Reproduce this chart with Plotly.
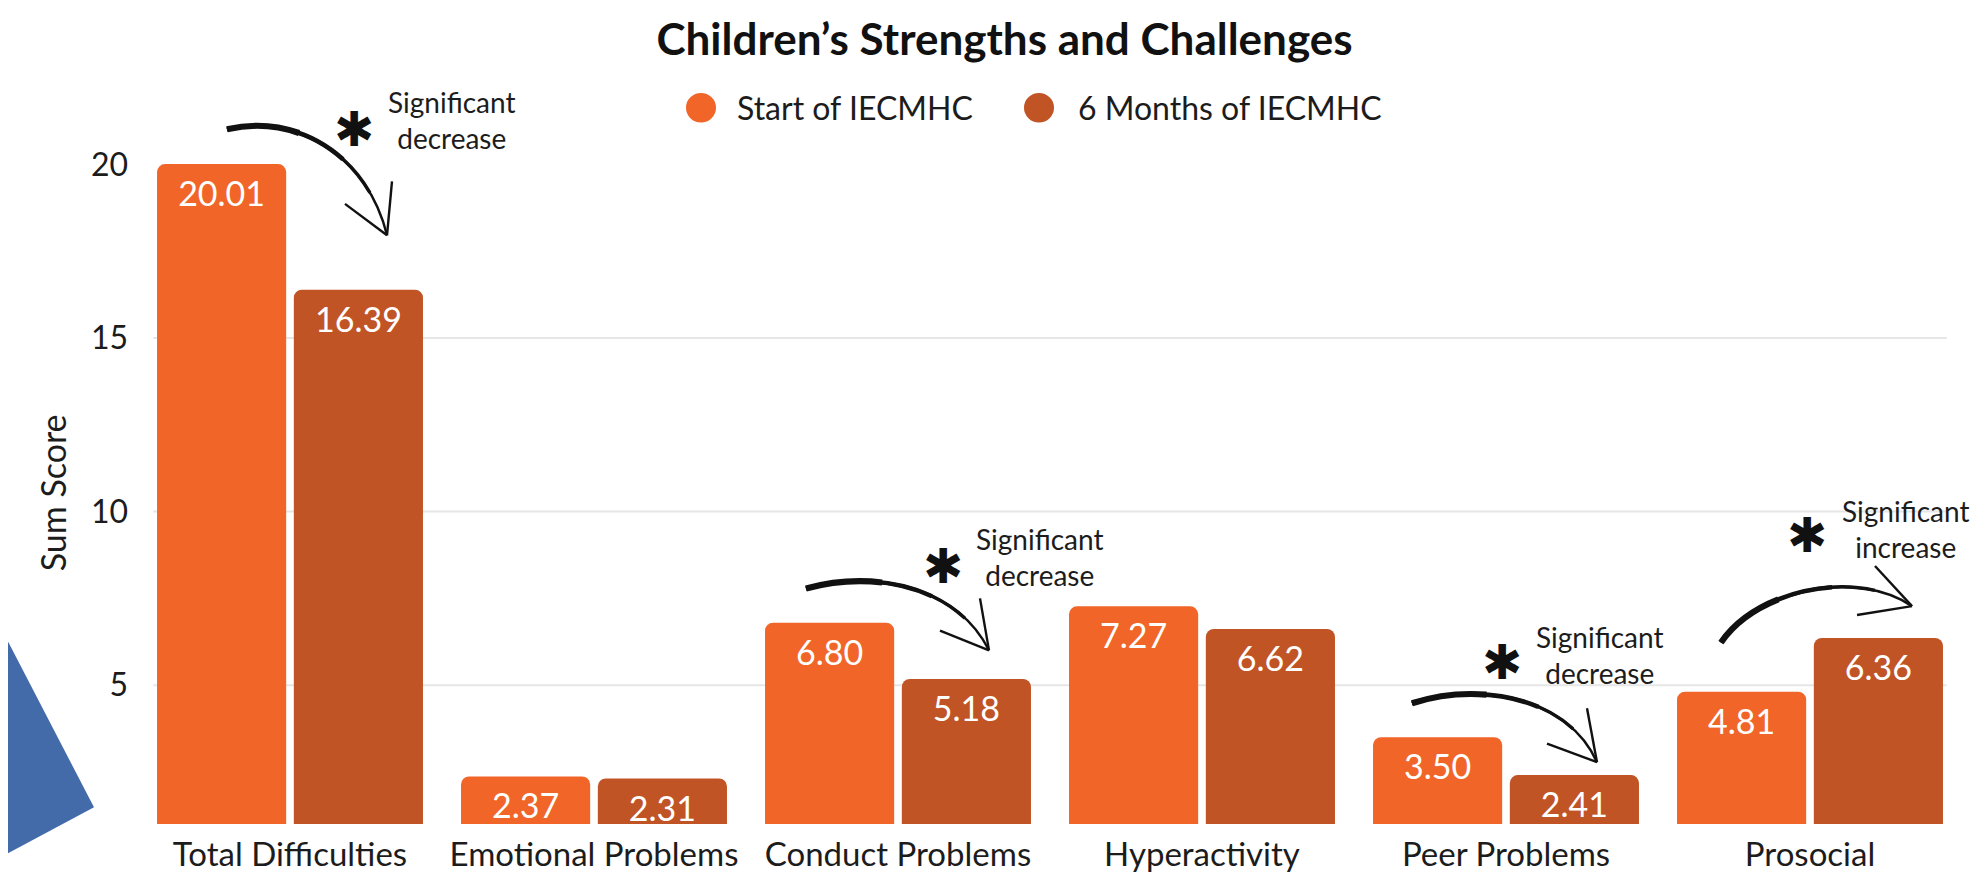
import plotly.graph_objects as go

# ---------------- data ----------------
categories = ["Total Difficulties", "Emotional Problems", "Conduct Problems",
              "Hyperactivity", "Peer Problems", "Prosocial"]
series_names = ["Start of IECMHC", "6 Months of IECMHC"]
start_values = [20.01, 2.37, 6.80, 7.27, 3.50, 4.81]
six_month_values = [16.39, 2.31, 5.18, 6.62, 2.41, 6.36]
y_tick_values = [5, 10, 15, 20]
grid_values = [5, 10, 15]
title_text = "Children’s Strengths and Challenges"
y_title = "Sum Score"
note_texts = ["Significant<br>decrease", "Significant<br>decrease",
              "Significant<br>decrease", "Significant<br>increase"]

# ---------------- style ----------------
W, H = 1979, 877
M = dict(l=130, r=25, t=87, b=47)
Y_RANGE = [1, 22]
colors = ["#F16628", "#C15425"]
FONT = "Lato"
TXT = "#1c1c1c"


def px_x(x):
    return (x - M["l"]) / (W - M["l"] - M["r"])


def px_y(y):
    return (H - M["b"] - y) / (H - M["t"] - M["b"])


fig = go.Figure()
for name, vals, col in zip(series_names, [start_values, six_month_values], colors):
    fig.add_trace(go.Bar(
        x=categories, y=vals, name=name,
        marker=dict(color=col, line=dict(width=0)),
        texttemplate="%{y:.2f}", textposition="inside", insidetextanchor="end",
        textfont=dict(color="white", size=34, family=FONT),
        showlegend=False, hoverinfo="skip",
    ))

shapes = []
# gridlines
for g in grid_values:
    shapes.append(dict(type="line", xref="x", yref="y", x0=-0.45, x1=5.45, y0=g, y1=g,
                       line=dict(color="#E6E6E6", width=2), layer="below"))

# manual legend (round markers)
legend_pos = [(693, 727), (1031, 1068)]
annotations = []
for (cx, tx), name, col in zip(legend_pos, series_names, colors):
    shapes.append(dict(type="circle", xref="paper", yref="paper",
                       x0=px_x(cx - 15), x1=px_x(cx + 15), y0=px_y(115), y1=px_y(85),
                       fillcolor=col, line=dict(width=0)))
    annotations.append(dict(text=name, xref="paper", yref="paper", x=px_x(tx), y=px_y(100),
                            xanchor="left", yanchor="middle", showarrow=False,
                            font=dict(family=FONT, size=32, color=TXT)))

# decorative blue triangle at the left edge
shapes.append(dict(type="path", xref="paper", yref="paper",
                   path=f"M {px_x(-2)} {px_y(640)} L {px_x(86)} {px_y(813)} L {px_x(-2)} {px_y(861)} Z",
                   fillcolor="#436BA9", line=dict(width=0)))


def split_cubic(p, t):
    p0, p1, p2, p3 = p
    lerp = lambda a, b: (a[0] + (b[0] - a[0]) * t, a[1] + (b[1] - a[1]) * t)
    a = lerp(p0, p1); b = lerp(p1, p2); c = lerp(p2, p3)
    d = lerp(a, b); e = lerp(b, c); f = lerp(d, e)
    return (p0, a, d, f)


def cubic_path(p):
    s = "M {} {}".format(px_x(p[0][0]), px_y(p[0][1]))
    s += " C " + " ".join("{} {}".format(px_x(q[0]), px_y(q[1])) for q in p[1:])
    return s


# hand-drawn style arrows: (curve control points, arrowhead ends)
arrows = [
    (((219, 122), (290, 105), (360, 150), (379, 230)), [(384, 175), (337, 198)]),
    (((798, 590), (870, 570), (950, 590), (981, 653)), [(972, 600), (932, 633)]),
    (((1404, 707), (1470, 685), (1560, 700), (1589, 767)), [(1579, 712), (1539, 748)]),
    (((1713, 645), (1750, 590), (1850, 570), (1904, 608)), [(1867, 567), (1849, 617)]),
]
for curve, heads in arrows:
    for t, w in [(1.0, 2.4), (0.8, 3.4), (0.6, 4.6), (0.35, 6.2)]:
        seg = split_cubic(curve, t) if t < 1 else curve
        shapes.append(dict(type="path", xref="paper", yref="paper", path=cubic_path(seg),
                           line=dict(color="#111111", width=w)))
    tip = curve[3]
    for hx, hy in heads:
        shapes.append(dict(type="line", xref="paper", yref="paper",
                           x0=px_x(tip[0]), y0=px_y(tip[1]), x1=px_x(hx), y1=px_y(hy),
                           line=dict(color="#111111", width=2.4)))

# asterisks and notes
star_pos = [(346, 122), (935, 567), (1494, 665), (1799, 535)]
note_pos = [(443, 112), (1031, 558), (1591, 658), (1897, 529)]
for (sx, sy), (nx, ny), note in zip(star_pos, note_pos, note_texts):
    annotations.append(dict(text="✱", xref="paper", yref="paper", x=px_x(sx), y=px_y(sy),
                            xanchor="center", yanchor="middle", showarrow=False,
                            font=dict(family="DejaVu Sans", size=48, color="#111111")))
    annotations.append(dict(text=note, xref="paper", yref="paper", x=px_x(nx),
                            y=px_y(ny), xanchor="center", yanchor="middle", align="center",
                            showarrow=False, borderpad=0,
                            font=dict(family=FONT, size=28, color=TXT)))

# y-axis title
annotations.append(dict(text=y_title, xref="paper", yref="paper", x=px_x(44), y=px_y(493),
                        textangle=-90, xanchor="center", yanchor="middle", showarrow=False,
                        font=dict(family=FONT, size=34, color=TXT)))

fig.update_layout(
    width=W, height=H, margin=M,
    paper_bgcolor="white", plot_bgcolor="white",
    barmode="group", bargap=0.1, bargroupgap=0.056, barcornerradius=8,
    uniformtext=dict(minsize=34, mode="show"),
    title=dict(text=title_text, x=996.5 / W, xanchor="center", xref="container",
               y=1 - 32 / H, yanchor="middle", yref="container",
               font=dict(family=FONT, size=44, color="#111111", weight="bold")),
    xaxis=dict(showgrid=False, showline=False, zeroline=False, ticks="",
               tickfont=dict(family=FONT, size=33, color=TXT), ticklabelstandoff=8),
    yaxis=dict(range=Y_RANGE, showgrid=False, zeroline=False, showline=False, ticks="",
               tickvals=y_tick_values, ticklabelstandoff=9,
               tickfont=dict(family=FONT, size=32, color=TXT)),
    shapes=shapes, annotations=annotations,
)

fig.write_html("out.html")
